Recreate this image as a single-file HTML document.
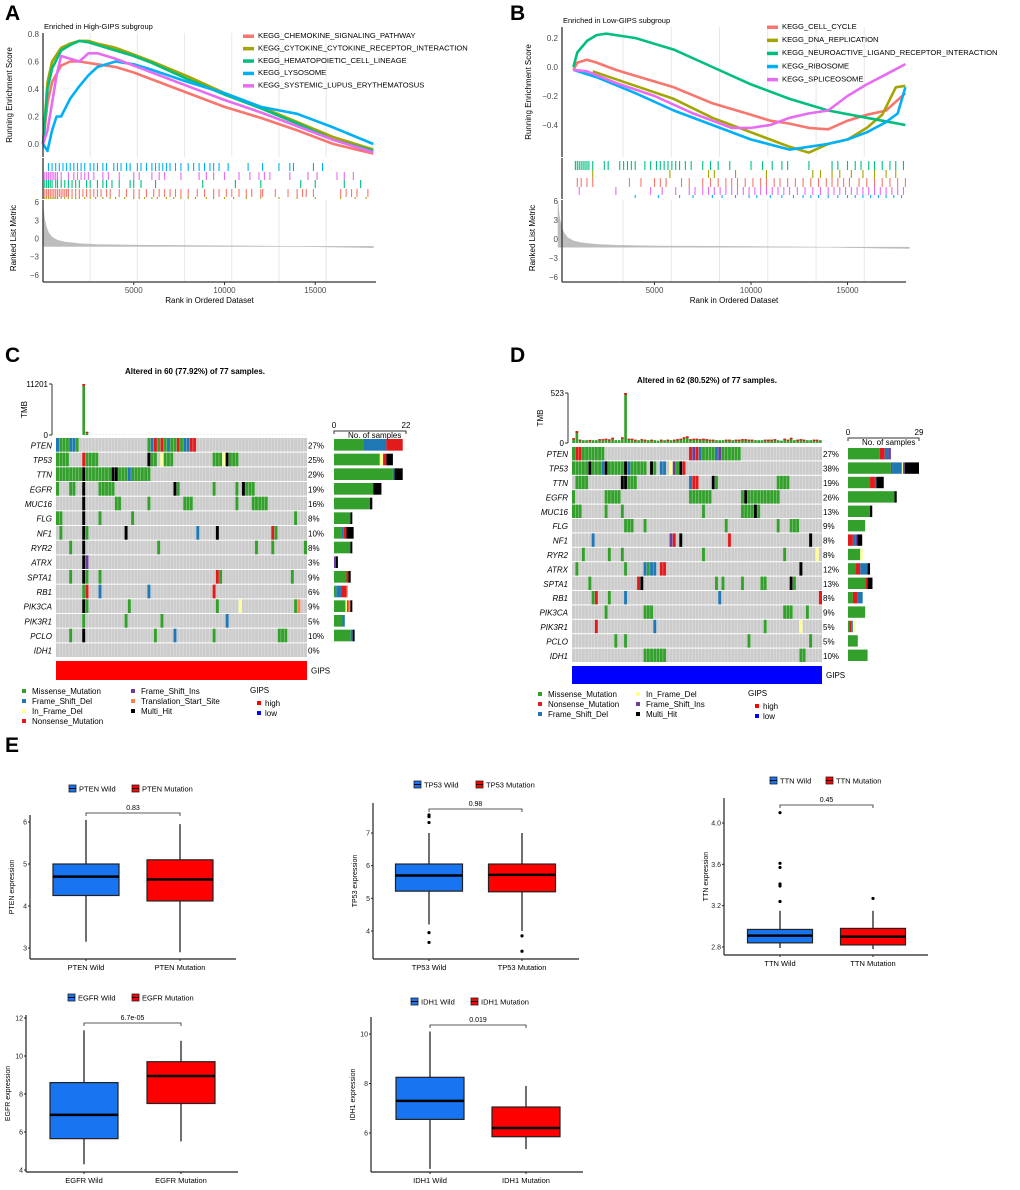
<!DOCTYPE html>
<html><head><meta charset="utf-8">
<style>
html,body{margin:0;padding:0;background:#fff;}
svg{display:block;font-family:"Liberation Sans",Arial,sans-serif;}
</style></head>
<body>
<svg id="fig" width="1020" height="1190" viewBox="0 0 1020 1190" xmlns="http://www.w3.org/2000/svg"></svg>
<script>
// ======== DATA ========
// GSEA panel A (High-GIPS)
const gseaANames = ["KEGG_CHEMOKINE_SIGNALING_PATHWAY","KEGG_CYTOKINE_CYTOKINE_RECEPTOR_INTERACTION","KEGG_HEMATOPOIETIC_CELL_LINEAGE","KEGG_LYSOSOME","KEGG_SYSTEMIC_LUPUS_ERYTHEMATOSUS"];
const gseaAChemRanks=[0,250,500,1000,1500,2000,3000,4000,5000,6000,8000,10000,12000,14000,16000,18200];
const gseaAChemES=[0,0.3,0.45,0.57,0.6,0.6,0.58,0.56,0.52,0.47,0.37,0.27,0.19,0.1,0.0,-0.07];
const gseaACytoRanks=[0,250,500,1000,1500,2000,2500,3000,4000,5000,6000,8000,10000,12000,14000,16000,18200];
const gseaACytoES=[0,0.45,0.6,0.7,0.73,0.75,0.75,0.73,0.7,0.65,0.6,0.49,0.37,0.27,0.16,0.05,-0.04];
const gseaAHemaRanks=[0,250,500,1000,1500,2000,2500,3000,4000,5000,6000,8000,10000,12000,14000,16000,18200];
const gseaAHemaES=[0,0.4,0.55,0.68,0.72,0.75,0.74,0.72,0.68,0.64,0.59,0.47,0.36,0.26,0.15,0.03,-0.05];
const gseaALysoRanks=[0,250,500,750,1000,1500,2000,2500,3000,4000,5000,6000,8000,10000,12000,14000,16000,18200];
const gseaALysoES=[0,-0.05,0.1,0.2,0.2,0.33,0.42,0.5,0.56,0.6,0.58,0.54,0.45,0.37,0.27,0.22,0.12,0.0];
const gseaALupusRanks=[0,250,500,750,1000,1500,2000,2500,3000,4000,5000,6000,8000,10000,12000,14000,16000,18200];
const gseaALupusES=[0,0.1,0.3,0.5,0.64,0.62,0.6,0.66,0.66,0.62,0.57,0.52,0.42,0.32,0.23,0.13,0.03,-0.06];
// rug hits (ranks) for panel A, rows top->bottom: lysosome, lupus, hema, chemokine, cytokine
const rugALyso=[300,500,700,900,1100,1300,1500,1700,1900,2100,2300,2600,2800,3000,3300,3500,3900,4100,4300,4600,4800,5200,5400,5700,6000,6200,6400,6600,6800,7000,7300,7600,8000,8300,8600,8900,9200,9400,9700,10200,11300,12100,13000,13600,13800,14900,15400];
const rugALupus=[100,200,300,400,500,600,700,800,1000,1400,1700,1900,2100,2300,2500,2800,3300,3600,4200,5000,5300,6000,6400,6700,7600,8600,9000,9400,10000,10800,11400,11900,12200,12500,13600,14600,15100,16200,16600,17100];
const rugAHema=[100,200,300,400,500,700,800,1000,1200,1400,1600,1800,2000,2400,2600,3000,3300,3500,3800,4200,4800,5000,5400,6200,8800,10600,12000,14200,15000,16600,17500];
const rugAChem=[100,200,300,400,500,600,700,800,900,1000,1100,1200,1300,1400,1600,1800,2000,2200,2400,2600,2800,3000,3200,3500,3700,4200,4600,5000,5300,5700,6100,6400,6700,7000,7300,7600,8000,8500,8900,9400,9700,10100,10400,10800,11200,11500,12000,12100,12800,13500,14000,14300,14500,14900,16400,16700,17000,17300,17900];
const rugACyto=[100,200,300,400,500,600,700,800,1000,1200,1400,1600,1800,2000,2300,2600,2900,3300,3700,4000,4500,5000,5300,5600,6000,6300,6800,7200,7600,8000,8400,9000,9400,10000,10500,11200,12000,13000,14000,15000,16400,17200,17800];
// GSEA panel B (Low-GIPS)
const gseaBNames=["KEGG_CELL_CYCLE","KEGG_DNA_REPLICATION","KEGG_NEUROACTIVE_LIGAND_RECEPTOR_INTERACTION","KEGG_RIBOSOME","KEGG_SPLICEOSOME"];
const gseaBCellRanks=[800,1000,1500,2000,3000,4000,5000,6000,8000,10000,11000,12000,13000,14000,15000,16000,17000,18000];
const gseaBCellES=[-0.02,0.03,0.05,0.03,-0.02,-0.06,-0.1,-0.14,-0.25,-0.33,-0.37,-0.39,-0.42,-0.43,-0.37,-0.33,-0.3,-0.18];
const gseaBDnaRanks=[1800,4000,6000,8000,10000,12000,13000,14000,15000,16000,16800,17500,18000];
const gseaBDnaES=[-0.03,-0.13,-0.22,-0.35,-0.45,-0.55,-0.59,-0.53,-0.5,-0.42,-0.33,-0.14,-0.13];
const gseaBNeuroRanks=[800,1000,1500,2000,2500,3000,4000,6000,8000,10000,12000,14000,16000,18000];
const gseaBNeuroES=[0.0,0.1,0.18,0.22,0.23,0.22,0.2,0.12,0.0,-0.12,-0.22,-0.3,-0.35,-0.4];
const gseaBRiboRanks=[800,2000,4000,6000,8000,10000,12000,13000,14000,15000,16000,17000,17600,18000];
const gseaBRiboES=[-0.02,-0.07,-0.18,-0.3,-0.4,-0.5,-0.57,-0.55,-0.53,-0.5,-0.45,-0.38,-0.32,-0.14];
const gseaBSpliRanks=[800,1500,3000,5000,7000,9000,10000,11000,12000,13000,14000,15000,16000,17000,18000];
const gseaBSpliES=[-0.02,-0.03,-0.11,-0.2,-0.32,-0.42,-0.42,-0.4,-0.35,-0.32,-0.3,-0.2,-0.12,-0.05,0.02];
const rugBNeuro=[900,1000,1100,1200,1300,1400,1500,1600,1800,2400,2600,3200,3400,3600,3800,4000,4500,4800,5100,5300,5500,5700,5900,6100,6300,6600,6900,7500,7900,8300,8900,10000,10600,11100,11600,11900,13000,14200,14500,15000,15400,15700,16100,16400,16800,17200,17500,17900];
const rugBDna=[1800,5800,7800,8100,9200,10800,13200,13600,14200,14600,15200,15800,16400,17000,17500];
const rugBCell=[1000,1200,1500,1800,3700,4300,5000,5300,5600,6400,6800,7500,7900,8300,8700,9000,9300,9700,10100,10500,10800,11200,11500,11900,12300,12700,13100,13500,13900,14200,14500,14800,15100,15600,16000,16400,16800,17200,17600,18000];
const rugBSpli=[1100,3000,4800,5400,6100,6800,7100,7500,7800,8100,8400,8700,9000,9300,9600,9900,10200,10500,10800,11100,11400,11700,12000,12400,12800,13200,13600,14000,14300,14600,14900,15200,15500,15800,16100,16400,16700,17000,17300,17600,17900];
const rugBRibo=[4000,5200,6300,7000,8000,8500,9200,9900,10300,11000,11600,12200,12700,13100,13500,14000,14500,15000,15400,15800,16200,16600,17000,17400,17800];
// ranked list metric
const metricRanks=[0,50,100,200,300,500,800,1200,2000,3000,5000,8000,10000,14000,18200];
const metricVals=[6,4,3,1.8,1,0.2,-0.3,-0.6,-0.85,-1.0,-1.1,-1.15,-1.2,-1.3,-1.5];

// Oncoplots
const oncoGenes=["PTEN","TP53","TTN","EGFR","MUC16","FLG","NF1","RYR2","ATRX","SPTA1","RB1","PIK3CA","PIK3R1","PCLO","IDH1"];
const oncoCPct=["27%","25%","29%","19%","16%","8%","10%","8%","3%","9%","6%","9%","5%","10%","0%"];
const oncoCCells=[
"0D 1M 2M 3M 4D 5D 6M 28M 29D 30N 31M 32N 33M 34D 35M 36M 37N 38M 39D 40D 41N 42N",
"0M 1M 2M 3M 8N 9M 10M 11M 12M 28H 29M 30M 32I 33M 34M 35M 48M 49M 50M 51I 52H 53M 54M 55M",
"0M 1M 2M 3M 4M 5M 6M 7M 8H 9M 10M 11M 12M 13M 14M 15M 16M 17H 18H 19M 20M 21M 22D 23M 24M 25M 26M 27M 28M",
"0M 4M 5M 8H 13M 14M 15M 16M 17M 36H 37M 48M 55M 57H 58M 59M 60M",
"8H 18M 19M 28M 39M 40M 41M 55M 60M 61M 62M 63M 64M",
"0M 1M 8H 13M 23M 73M",
"1M 8H 9M 21H 43D 49H 66N 67M",
"4M 8H 31M 61M 66M 76M",
"8H 9S",
"4M 8H 9M 13M 49N 50M 72M",
"8M 9N 13D 28D 48N",
"8H 9M 22M 49M 56I 73M 74T",
"8M 21M 32M 52D",
"4M 8H 30M 36D 48M 68M 69M 70M",
""];
const oncoCBars=[
"M9 D7 N5","M14 I1 N1 H2","M18 D0.5 H2.5","M12 H2.5","M11 H0.7","M5 H0.6","M2.2 D0.8 N0.8 H2.2","M5 H0.6","S0.6 H0.6","M3.8 N0.6 H0.7","M0.7 D1.6 N1.6 T0.3","M3.5 I0.5 N0.4 T0.6 H0.6","M2.6 D0.7","M5.1 D0.6 H0.6",""];
const oncoCTmb=[5,5,5,5,5,5,5,5,11201,700,20,20,20,20,20,20,20,20,20,20,20,20,20,20,20,20,20,20,20,20,20,20,20,20,20,20,20,20,20,20,20,20,20,20,20,20,20,20,20,20,20,20,20,20,20,20,20,20,20,20,20,20,20,20,20,20,20,20,20,20,20,20,20,20,20,20,20];
const oncoDPct=["27%","38%","19%","26%","13%","9%","8%","8%","12%","13%","8%","9%","5%","5%","10%"];
const oncoDCells=[
"0M 1N 2N 3M 4M 5M 6M 7M 8M 9M 36N 37S 38N 39D 40M 41M 42M 43M 44D 45S 46M 47M 48M 49M 50M 51M",
"0M 1M 2M 3M 4M 5H 6M 7M 8M 9D 10H 11M 12M 13M 14M 15M 16H 17D 18M 19M 20M 21M 22M 24H 25M 27D 28D 30I 31S 32M 33H 34N",
"1M 2M 3M 4M 15H 16H 17M 18M 19M 36D 37N 38N 43H 44M 63M 64M 65M 66M",
"0M 10M 11M 12M 13M 14M 36M 37M 38M 39M 40M 41M 42M 52M 53H 54M 55M 56M 57M 58M 59M 60M 61M 62M 63M",
"0M 1M 2M 10M 15M 40M 52M 53M 54M 55M 56H 57M",
"16M 17M 18M 22M 47M 63M 67M 68M 69M",
"6D 30S 31N 33H 48N 73H",
"3M 11M 15M 40M 65M 75I",
"1M 16M 22D 23M 24D 25D 27N 28N 70H",
"5M 20N 21H 44M 46M 52M 58M 59M 67H 68M",
"6M 7N 11M 16D 45D 76N",
"10M 22M 23M 24M 65M 66M 67M 72M",
"7N 25D 59M 70I",
"13M 16M 54M 73M",
"22M 23M 24M 25M 26M 27M 28M 70M 71M"];
const oncoDBars=[
"M13 N2 D1.5 S1","M17.5 N0.5 D4 I0.5 S0.7 H5.8","M9 N2 D0.6 H3","M19 H0.9","M9 H0.9","M7","N2 D1 S0.8 H2","M5 I1","M3 N2 D3 H1","M7 N1 H2","M2 N2 D2","M7","M0.6 N0.7 D0.7 I0.9","M4","M8"];
const oncoDTmb=[50,125,35,30,30,32,30,30,40,40,45,38,55,30,30,60,523,45,45,35,30,40,35,30,35,30,25,35,30,35,30,35,40,45,60,70,40,45,45,40,45,40,35,35,30,30,30,35,35,30,35,35,40,40,35,35,30,30,30,35,35,35,40,30,25,45,35,55,30,35,40,35,30,30,35,35,30];

// Boxplots: [whiskerLow, q1, median, q3, whiskerHigh]
const ptenWild=[3.15,4.25,4.7,5.0,6.05], ptenMut=[2.9,4.12,4.63,5.1,5.95];
const ptenWildOut=[], ptenMutOut=[];
const tp53Wild=[4.2,5.22,5.7,6.05,7.0], tp53Mut=[4.0,5.2,5.72,6.05,7.0];
const tp53WildOut=[7.5,7.55,7.32,3.95,3.65], tp53MutOut=[3.85,3.38];
const ttnWild=[2.79,2.84,2.91,2.97,3.15], ttnMut=[2.78,2.82,2.9,2.98,3.15];
const ttnWildOut=[4.1,3.61,3.57,3.41,3.39,3.24], ttnMutOut=[3.27];
const egfrWild=[4.3,5.65,6.9,8.6,11.35], egfrMut=[5.5,7.5,8.95,9.7,10.8];
const egfrWildOut=[], egfrMutOut=[];
const idh1Wild=[4.55,6.55,7.3,8.25,10.1], idh1Mut=[5.35,5.85,6.2,7.05,7.9];
const idh1WildOut=[], idh1MutOut=[];
const pValues=["0.83","0.98","0.45","6.7e-05","0.019"];

// ======== DRAWING ========
const NS="http://www.w3.org/2000/svg";
const svg=document.getElementById('fig');
function mk(tag,attrs,parent){const e=document.createElementNS(NS,tag);for(const k in attrs)e.setAttribute(k,attrs[k]);(parent||svg).appendChild(e);return e;}
function txt(s,x,y,attrs,parent){const t=mk('text',Object.assign({x:x,y:y},attrs),parent);t.textContent=s;return t;}
function grp(name,parent){const g=mk('g',{},parent);return g;}

// panel letters
[["A",5,20],["B",510,20],["C",5,362],["D",510,362],["E",5,752]].forEach(p=>{
  const t=txt(p[0],p[1],p[2],{'font-size':'21','font-weight':'bold'});
  
  
});

const gseaColors=["#F8766D","#A3A500","#00BF7D","#00B0F6","#E76BF3"];

function drawGSEA(cfg){
  const g=grp(cfg.name);
  const X=cfg.x, Y=cfg.y, YM=cfg.ym;
  // gridlines
  cfg.grid.forEach(r=>{
    const l=mk('line',{x1:X(r),x2:X(r),y1:cfg.top,y2:157,stroke:'#e8e8e8','stroke-width':1},g);
    
    const l2=mk('line',{x1:X(r),x2:X(r),y1:200,y2:282,stroke:'#e8e8e8','stroke-width':1},g);
    
  });
  // curves
  cfg.series.forEach((s,i)=>{
    const d=s.r.map((r,j)=>(j?'L':'M')+X(r).toFixed(1)+','+Y(s.v[j]).toFixed(1)).join('');
    const p=mk('path',{d:d,fill:'none',stroke:gseaColors[i],'stroke-width':2.6,'stroke-linejoin':'round'},g);
    
    
  });
  // ES axis
  mk('line',{x1:cfg.ax,x2:cfg.ax,y1:cfg.top,y2:157,stroke:'#333','stroke-width':1.3},g);
  cfg.esTicks.forEach((t,i)=>{
    const tt=txt(cfg.esLabels[i],cfg.ax-4,Y(t)+3,{'font-size':'8','fill':'#4d4d4d','text-anchor':'end'},g);
    
  });
  const yl=txt('Running Enrichment Score',0,0,{'font-size':'8','text-anchor':'middle',transform:`translate(${cfg.ax-31},${(cfg.top+157)/2}) rotate(-90)`},g);
  
  const st=txt(cfg.subtitle,cfg.ax+1,cfg.top-4,{'font-size':'7.5'},g);
  
  // rug panel
  mk('line',{x1:cfg.ax,x2:cfg.ax,y1:158,y2:199,stroke:'#333','stroke-width':1.3},g);
  cfg.rugs.forEach(rg=>{
    rg.hits.forEach(r=>{
      const l=mk('line',{x1:X(r),x2:X(r),y1:rg.y0,y2:rg.y1,stroke:gseaColors[rg.c],'stroke-width':1.1},g);
      
    });
  });
  // metric panel
  const md='M'+X(metricRanks[0])+','+YM(-1.3)+metricRanks.map((r,j)=>'L'+X(r).toFixed(1)+','+YM(metricVals[j]).toFixed(1)).join('')+'L'+X(metricRanks[metricRanks.length-1])+','+YM(-1.3)+'Z';
  const ma=mk('path',{d:md,fill:'#bdbdbd',stroke:'#bdbdbd','stroke-width':0.6},g);
  
  mk('line',{x1:cfg.ax,x2:cfg.ax,y1:200,y2:282,stroke:'#333','stroke-width':1.3},g);
  [6,3,0,-3,-6].forEach(v=>{
    const tt=txt(v<0?'\u2212'+(-v):String(v),cfg.ax-4,YM(v)+3,{'font-size':'8','fill':'#4d4d4d','text-anchor':'end'},g);
    
  });
  const ml=txt('Ranked List Metric',0,0,{'font-size':'8','text-anchor':'middle',transform:`translate(${cfg.ax-27},238) rotate(-90)`},g);
  
  mk('line',{x1:cfg.ax,x2:cfg.right,y1:282,y2:282,stroke:'#333','stroke-width':1.3},g);
  [5000,10000,15000].forEach(r=>{
    mk('line',{x1:X(r),x2:X(r),y1:282,y2:285,stroke:'#333'},g);
    const tt=txt(String(r),X(r),293,{'font-size':'8','fill':'#4d4d4d','text-anchor':'middle'},g);
    
  });
  const xt=txt('Rank in Ordered Dataset',(cfg.ax+cfg.right)/2,303,{'font-size':'8','text-anchor':'middle'},g);
  
  // legend
  cfg.names.forEach((n,i)=>{
    const ly=cfg.legY+i*cfg.legDy;
    mk('rect',{x:cfg.legX,y:ly-3.5,width:11,height:3.5,fill:gseaColors[i]},g);
    const lt=txt(n,cfg.legX+15,ly,{'font-size':'7.6'},g);
    
    
  });
}

const xA=r=>43+r*0.01815, yA=v=>144-v*137.5, ymA=v=>238.5-v*6.08;
drawGSEA({name:'gsea-panel-a',x:xA,y:yA,ym:ymA,ax:43,right:376,top:33,
  grid:[2600,5200,7800,10400,13000,15600],
  names:gseaANames,
  series:[{r:gseaAChemRanks,v:gseaAChemES},{r:gseaACytoRanks,v:gseaACytoES},{r:gseaAHemaRanks,v:gseaAHemaES},{r:gseaALysoRanks,v:gseaALysoES},{r:gseaALupusRanks,v:gseaALupusES}],
  esTicks:[0.8,0.6,0.4,0.2,0.0],esLabels:["0.8","0.6","0.4","0.2","0.0"],
  subtitle:'Enriched in High-GIPS subgroup',
  rugs:[{hits:rugALyso,c:3,y0:163,y1:171},{hits:rugALupus,c:4,y0:172,y1:180},{hits:rugAHema,c:2,y0:180,y1:188},{hits:rugAChem,c:0,y0:189,y1:197},{hits:rugACyto,c:1,y0:197,y1:199}],
  legX:243,legY:38,legDy:12.4});

const xB=r=>558+r*0.0193, yB=v=>67-v*145, ymB=v=>239-v*6.33;
drawGSEA({name:'gsea-panel-b',x:xB,y:yB,ym:ymB,ax:562,right:906,top:27,
  grid:[3370,5870,8370,10870,13370,15870],
  names:gseaBNames,
  series:[{r:gseaBCellRanks,v:gseaBCellES},{r:gseaBDnaRanks,v:gseaBDnaES},{r:gseaBNeuroRanks,v:gseaBNeuroES},{r:gseaBRiboRanks,v:gseaBRiboES},{r:gseaBSpliRanks,v:gseaBSpliES}],
  esTicks:[0.2,0.0,-0.2,-0.4],esLabels:["0.2","0.0","\u22120.2","\u22120.4"],
  subtitle:'Enriched in Low-GIPS subgroup',
  rugs:[{hits:rugBNeuro,c:2,y0:161,y1:170},{hits:rugBDna,c:1,y0:170,y1:178},{hits:rugBCell,c:0,y0:178,y1:187},{hits:rugBSpli,c:4,y0:187,y1:195},{hits:rugBRibo,c:3,y0:195,y1:198}],
  legX:767,legY:29,legDy:13.1});

// ===== Oncoplots =====
const mutColors={M:'#33A02C',D:'#1F78B4',I:'#FFFF99',N:'#E31A1C',S:'#6A3D9A',T:'#FF7F50',H:'#000000'};
const mutNames={M:'missense',D:'frame-shift-del',I:'in-frame-del',N:'nonsense',S:'frame-shift-ins',T:'translation-start-site',H:'multi-hit'};
function drawOnco(cfg){
  const g=grp(cfg.name);
  const n=77, cw=(cfg.gx1-cfg.gx0)/n, rh=(cfg.gy1-cfg.gy0)/oncoGenes.length;
  const tt=txt(cfg.title,cfg.titleX,cfg.titleY,{'font-size':'8','font-weight':'bold','text-anchor':'middle'},g);
  
  // TMB
  mk('line',{x1:cfg.tx,x2:cfg.tx,y1:cfg.tTop,y2:cfg.tBot,stroke:'#333','stroke-width':1},g);
  mk('line',{x1:cfg.tx-3,x2:cfg.tx,y1:cfg.tTop,y2:cfg.tTop,stroke:'#333'},g);
  mk('line',{x1:cfg.tx-3,x2:cfg.tx,y1:cfg.tBot,y2:cfg.tBot,stroke:'#333'},g);
  txt(String(cfg.tMax),cfg.tx-4,cfg.tTop+3,{'font-size':'8','text-anchor':'end'},g);
  txt('0',cfg.tx-4,cfg.tBot+3,{'font-size':'8','text-anchor':'end'},g);
  const tl=txt('TMB',0,0,{'font-size':'8','text-anchor':'middle',transform:`translate(${cfg.tx-25},${(cfg.tTop+cfg.tBot)/2}) rotate(-90)`},g);
  
  cfg.tmb.forEach((v,i)=>{
    const h=v/cfg.tMax*(cfg.tBot-cfg.tTop);
    const b=mk('rect',{x:cfg.gx0+i*cw+0.3,y:cfg.tBot-h,width:cw-0.6,height:h,fill:'#33A02C'},g);
    
    if(h>3){mk('rect',{x:cfg.gx0+i*cw+0.3,y:cfg.tBot-h,width:cw-0.6,height:Math.min(2,h*0.1+1),fill:'#E31A1C'},g);}
  });
  // grid
  oncoGenes.forEach((gene,r)=>{
    const y=cfg.gy0+r*rh;
    const bg=mk('rect',{x:cfg.gx0,y:y,width:cfg.gx1-cfg.gx0,height:rh-1,fill:'#CCCCCC'},g);
    
    const lab=txt(gene,cfg.gx0-4,y+rh/2+3,{'font-size':'8','font-style':'italic','text-anchor':'end'},g);
    
    const pc=txt(cfg.pct[r],cfg.gx1+1,y+rh/2+3,{'font-size':'8'},g);
    
    const cells=cfg.cells[r].trim()?cfg.cells[r].trim().split(/\s+/):[];
    cells.forEach(c=>{
      const col=parseInt(c), t=c.replace(/\d+/,'');
      const cr=mk('rect',{x:cfg.gx0+col*cw,y:y,width:cw,height:rh-1,fill:mutColors[t]},g);
      
    });
    // right bar
    let bx=cfg.bx0;
    const segs=cfg.bars[r].trim()?cfg.bars[r].trim().split(/\s+/):[];
    segs.forEach(s=>{
      const t=s[0], v=parseFloat(s.slice(1)), w=v/cfg.bMax*(cfg.bx1-cfg.bx0);
      const br=mk('rect',{x:bx,y:y+1,width:w,height:rh-3,fill:mutColors[t]},g);
      
      bx+=w;
    });
  });
  // white column separators
  for(let i=1;i<n;i++){mk('line',{x1:cfg.gx0+i*cw,x2:cfg.gx0+i*cw,y1:cfg.gy0,y2:cfg.gy1,stroke:'#fff','stroke-width':0.35,'stroke-opacity':0.7},g);}
  // bar axis
  mk('path',{d:`M${cfg.bx0},${cfg.bAy+3}V${cfg.bAy}H${cfg.bx1}V${cfg.bAy+3}`,fill:'none',stroke:'#333'},g);
  txt('0',cfg.bx0,cfg.bAy-3,{'font-size':'8','text-anchor':'middle'},g);
  txt(String(cfg.bMax),cfg.bx1,cfg.bAy-3,{'font-size':'8','text-anchor':'middle'},g);
  txt('No. of samples',cfg.bx0+14,cfg.bAy+7,{'font-size':'8'},g);
  // GIPS
  const gb=mk('rect',{x:cfg.gx0,y:cfg.gipsY0,width:cfg.gx1-cfg.gx0,height:cfg.gipsY1-cfg.gipsY0,fill:cfg.gipsColor},g);
  
  txt('GIPS',cfg.gx1+4,(cfg.gipsY0+cfg.gipsY1)/2+3,{'font-size':'8'},g);
  // legend
  cfg.legend.forEach(l=>{
    mk('rect',{x:l[1],y:l[2]-5,width:4,height:4,fill:mutColors[l[0]]},g);
    const lt=txt(l[3],l[1]+10,l[2],{'font-size':'8'},g);
    
  });
  txt('GIPS',cfg.gipsLegX,cfg.gipsLegY,{'font-size':'8'},g);
  mk('rect',{x:cfg.gipsLegX+7,y:cfg.gipsLegY+8,width:4,height:4,fill:'#FF0000'},g);
  txt('high',cfg.gipsLegX+15,cfg.gipsLegY+13,{'font-size':'8'},g);
  mk('rect',{x:cfg.gipsLegX+7,y:cfg.gipsLegY+18,width:4,height:4,fill:'#0000FF'},g);
  txt('low',cfg.gipsLegX+15,cfg.gipsLegY+23,{'font-size':'8'},g);
}
drawOnco({name:'oncoplot-c',title:'Altered in 60 (77.92%) of 77 samples.',titleX:195,titleY:374,
  tx:52,tTop:384,tBot:435,tMax:11201,tmb:oncoCTmb,
  gx0:56,gx1:307,gy0:438,gy1:658,pct:oncoCPct,cells:oncoCCells,bars:oncoCBars,
  bx0:334,bx1:406,bMax:22,bAy:431,
  gipsY0:661,gipsY1:680,gipsColor:'#FF0000',
  legend:[['M',22,694,'Missense_Mutation'],['D',22,704,'Frame_Shift_Del'],['I',22,714,'In_Frame_Del'],['N',22,724,'Nonsense_Mutation'],['S',131,694,'Frame_Shift_Ins'],['T',131,704,'Translation_Start_Site'],['H',131,714,'Multi_Hit']],
  gipsLegX:250,gipsLegY:693});
drawOnco({name:'oncoplot-d',title:'Altered in 62 (80.52%) of 77 samples.',titleX:707,titleY:383,
  tx:568,tTop:393,tBot:443,tMax:523,tmb:oncoDTmb,
  gx0:572,gx1:822,gy0:447,gy1:663,pct:oncoDPct,cells:oncoDCells,bars:oncoDBars,
  bx0:848,bx1:919,bMax:29,bAy:438,
  gipsY0:666,gipsY1:684,gipsColor:'#0000FF',
  legend:[['M',538,697,'Missense_Mutation'],['N',538,707,'Nonsense_Mutation'],['D',538,717,'Frame_Shift_Del'],['I',636,697,'In_Frame_Del'],['S',636,707,'Frame_Shift_Ins'],['H',636,717,'Multi_Hit']],
  gipsLegX:748,gipsLegY:696});

// ===== Boxplots =====
function drawBox(cfg){
  const g=grp(cfg.name);
  const Y=v=>cfg.yA+(v-cfg.vA)*(cfg.yB-cfg.yA)/(cfg.vB-cfg.vA);
  mk('line',{x1:cfg.ax,x2:cfg.ax,y1:cfg.top,y2:cfg.base,stroke:'#222','stroke-width':1.2},g);
  mk('line',{x1:cfg.ax,x2:cfg.right,y1:cfg.base,y2:cfg.base,stroke:'#222','stroke-width':1.2},g);
  cfg.ticks.forEach((t,i)=>{
    mk('line',{x1:cfg.ax-2,x2:cfg.ax,y1:Y(t),y2:Y(t),stroke:'#222'},g);
    const tl=txt(cfg.tickLabels[i],cfg.ax-3,Y(t)+2.5,{'font-size':'7','text-anchor':'end','fill':'#222'},g);
    
  });
  const yl=txt(cfg.gene+' expression',0,0,{'font-size':'7','text-anchor':'middle',transform:`translate(${cfg.ax-16},${(cfg.top+cfg.base)/2}) rotate(-90)`},g);
  
  const groups=[[cfg.wild,cfg.wildOut,'#1874F0','Wild',cfg.c1],[cfg.mut,cfg.mutOut,'#FF0000','Mutation',cfg.c2]];
  groups.forEach(gr=>{
    const s=gr[0], cx=gr[4], hw=cfg.bw/2;
    mk('line',{x1:cx,x2:cx,y1:Y(s[0]),y2:Y(s[4]),stroke:'#111','stroke-width':1.2},g);
    const b=mk('rect',{x:cx-hw,y:Y(s[3]),width:cfg.bw,height:Y(s[1])-Y(s[3]),fill:gr[2],stroke:'#222','stroke-width':1.2},g);
    
    mk('line',{x1:cx-hw,x2:cx+hw,y1:Y(s[2]),y2:Y(s[2]),stroke:'#000','stroke-width':2.5},g);
    gr[1].forEach(o=>{const c=mk('circle',{cx:cx,cy:Y(o),r:1.6,fill:'#000'},g);});
    mk('line',{x1:cx,x2:cx,y1:cfg.base,y2:cfg.base+2,stroke:'#222'},g);
    const xl=txt(cfg.gene+' '+gr[3],cx,cfg.base+11,{'font-size':'7.5','text-anchor':'middle'},g);
    
  });
  // bracket
  mk('path',{d:`M${cfg.c1},${cfg.brY+3}V${cfg.brY}H${cfg.c2}V${cfg.brY+3}`,fill:'none',stroke:'#222','stroke-width':0.8},g);
  const pv=txt(cfg.p,(cfg.c1+cfg.c2)/2,cfg.brY-3,{'font-size':'7','text-anchor':'middle'},g);
  
  // legend
  [['#1874F0','Wild',cfg.lx1],['#FF0000','Mutation',cfg.lx2]].forEach(l=>{
    const r=mk('rect',{x:l[2],y:cfg.ly-4,width:7,height:7,fill:l[0],stroke:'#222','stroke-width':0.8},g);
    
    mk('line',{x1:l[2],x2:l[2]+7,y1:cfg.ly-0.5,y2:cfg.ly-0.5,stroke:'#000','stroke-width':1},g);
    const t=txt(cfg.gene+' '+l[1],l[2]+10,cfg.ly+2.5,{'font-size':'7.5'},g);
    
  });
}
drawBox({name:'boxplot-pten',gene:'PTEN',ax:30,right:236,top:815,base:959,yA:822,vA:6,yB:948,vB:3,ticks:[3,4,5,6],tickLabels:['3','4','5','6'],
  wild:ptenWild,mut:ptenMut,wildOut:ptenWildOut,mutOut:ptenMutOut,c1:86,c2:180,bw:66,brY:813,p:pValues[0],ly:789,lx1:69,lx2:132});
drawBox({name:'boxplot-tp53',gene:'TP53',ax:373,right:579,top:803,base:959,yA:833,vA:7,yB:931,vB:4,ticks:[4,5,6,7],tickLabels:['4','5','6','7'],
  wild:tp53Wild,mut:tp53Mut,wildOut:tp53WildOut,mutOut:tp53MutOut,c1:429,c2:522,bw:67,brY:809,p:pValues[1],ly:785,lx1:414,lx2:476});
drawBox({name:'boxplot-ttn',gene:'TTN',ax:724,right:928,top:798,base:955,yA:823,vA:4.0,yB:947,vB:2.8,ticks:[2.8,3.2,3.6,4.0],tickLabels:['2.8','3.2','3.6','4.0'],
  wild:ttnWild,mut:ttnMut,wildOut:ttnWildOut,mutOut:ttnMutOut,c1:780,c2:873,bw:65,brY:805,p:pValues[2],ly:781,lx1:770,lx2:826});
drawBox({name:'boxplot-egfr',gene:'EGFR',ax:26,right:238,top:1015,base:1172,yA:1018,vA:12,yB:1170,vB:4,ticks:[4,6,8,10,12],tickLabels:['4','6','8','10','12'],
  wild:egfrWild,mut:egfrMut,wildOut:egfrWildOut,mutOut:egfrMutOut,c1:84,c2:181,bw:68,brY:1023,p:pValues[3],ly:998,lx1:68,lx2:132});
drawBox({name:'boxplot-idh1',gene:'IDH1',ax:371,right:583,top:1017,base:1172,yA:1034,vA:10,yB:1133,vB:6,ticks:[6,8,10],tickLabels:['6','8','10'],
  wild:idh1Wild,mut:idh1Mut,wildOut:idh1WildOut,mutOut:idh1MutOut,c1:430,c2:526,bw:68,brY:1025,p:pValues[4],ly:1002,lx1:411,lx2:471});
</script>
</body></html>
